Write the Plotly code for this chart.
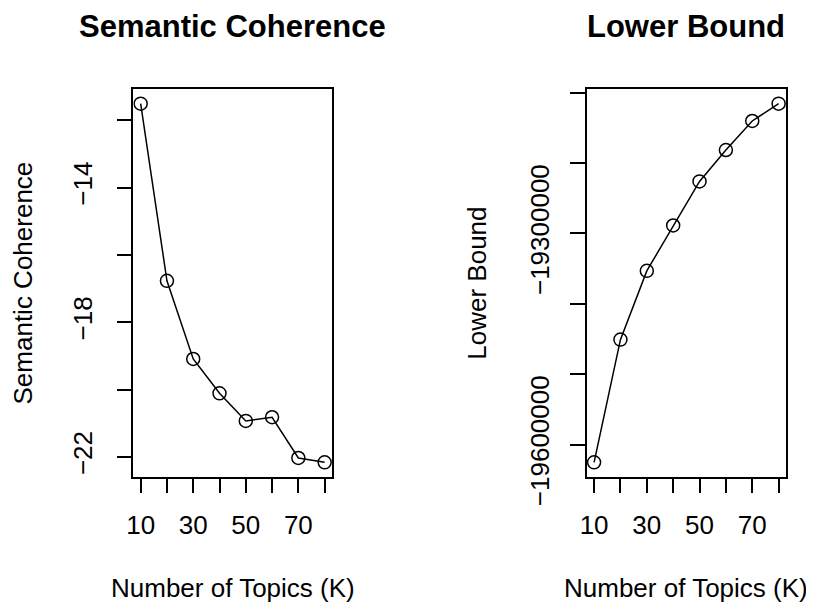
import plotly.graph_objects as go

# ---- data ----
topics_k = [10, 20, 30, 40, 50, 60, 70, 80]
semantic_coherence = [-11.51, -16.77, -19.09, -20.11, -20.93, -20.82, -22.03, -22.16]
lower_bound = [-19625200, -19450800, -19353100, -19288600, -19226000, -19181400, -19140100, -19115500]

x_tick_vals = [10, 20, 30, 40, 50, 60, 70, 80]
x_tick_text = ["10", "", "30", "", "50", "", "70", ""]
sc_tick_vals = [-22, -20, -18, -16, -14, -12]
sc_tick_text = ["\u221222", "", "\u221218", "", "\u221214", ""]
lb_tick_vals = [-19600000, -19500000, -19400000, -19300000, -19200000, -19100000]
lb_tick_text = ["\u221219600000", "", "", "\u221219300000", "", ""]

titles = ["Semantic Coherence", "Lower Bound"]
y_titles = ["Semantic Coherence", "Lower Bound"]
x_title = "Number of Topics (K)"

FONT = "Liberation Sans, Arial, sans-serif"
PAGE_W, PAGE_H = 814, 604
OFF = 8  # default body margin of the html page
W, H = PAGE_W - OFF, PAGE_H - OFF


def px(x):
    return (x - OFF) / W


def py(y):
    return 1 - (y - OFF) / H


def ext(vals):
    lo, hi = min(vals), max(vals)
    d = (hi - lo) * 0.04
    return [lo - d, hi + d]


fig = go.Figure()
line_style = dict(color="black", width=1.5)
marker_style = dict(symbol="circle-open", size=13, color="black", line=dict(width=1.5, color="black"))
fig.add_trace(go.Scatter(x=topics_k, y=semantic_coherence, mode="lines+markers",
                         line=line_style, marker=marker_style, xaxis="x", yaxis="y", showlegend=False))
fig.add_trace(go.Scatter(x=topics_k, y=lower_bound, mode="lines+markers",
                         line=line_style, marker=marker_style, xaxis="x2", yaxis="y2", showlegend=False))

# panel boxes in page pixels
L1, R1 = 133.3, 332.0
L2, R2 = 586.7, 786.0
TOP, BOT = 89.3, 476.7
ydom = [py(BOT), py(TOP)]

axis_common = dict(showline=True, mirror=True, linecolor="black", linewidth=1.5,
                   ticks="outside", ticklen=15, tickwidth=1.5, tickcolor="black",
                   showgrid=False, zeroline=False, automargin=False,
                   tickfont=dict(family=FONT, size=26, color="black"))

fig.update_layout(
    template="none",
    width=W, height=H,
    margin=dict(l=0, r=0, t=0, b=0, pad=0),
    paper_bgcolor="white", plot_bgcolor="white",
    font=dict(family=FONT, size=26, color="black"),
    xaxis=dict(domain=[px(L1), px(R1)], range=ext(topics_k), anchor="y",
               tickmode="array", tickvals=x_tick_vals, ticktext=x_tick_text,
               ticklabelstandoff=9, **axis_common),
    yaxis=dict(domain=ydom, range=ext(semantic_coherence), anchor="x",
               tickmode="array", tickvals=sc_tick_vals, ticktext=sc_tick_text,
               tickangle=-90, ticklabelstandoff=14, **axis_common),
    xaxis2=dict(domain=[px(L2), px(R2)], range=ext(topics_k), anchor="y2",
                tickmode="array", tickvals=x_tick_vals, ticktext=x_tick_text,
                ticklabelstandoff=9, **axis_common),
    yaxis2=dict(domain=ydom, range=ext(lower_bound), anchor="x2",
                tickmode="array", tickvals=lb_tick_vals, ticktext=lb_tick_text,
                tickangle=-90, ticklabelstandoff=11, **axis_common),
)

annots = []
for i, (cx, ylx) in enumerate([((L1 + R1) / 2, 22.5), ((L2 + R2) / 2, 476.7)]):
    annots.append(dict(text="<b>" + titles[i] + "</b>", x=px(cx), y=py(26),
                       xref="paper", yref="paper", xanchor="center", yanchor="middle",
                       showarrow=False, font=dict(family=FONT, size=31, color="black")))
    annots.append(dict(text=x_title, x=px(cx), y=py(588),
                       xref="paper", yref="paper", xanchor="center", yanchor="middle",
                       showarrow=False, font=dict(family=FONT, size=26, color="black")))
    annots.append(dict(text=y_titles[i], x=px(ylx), y=py((TOP + BOT) / 2),
                       xref="paper", yref="paper", xanchor="center", yanchor="middle",
                       textangle=-90, showarrow=False, font=dict(family=FONT, size=26, color="black")))
fig.update_layout(annotations=annots)

fig.write_html("out.html")
